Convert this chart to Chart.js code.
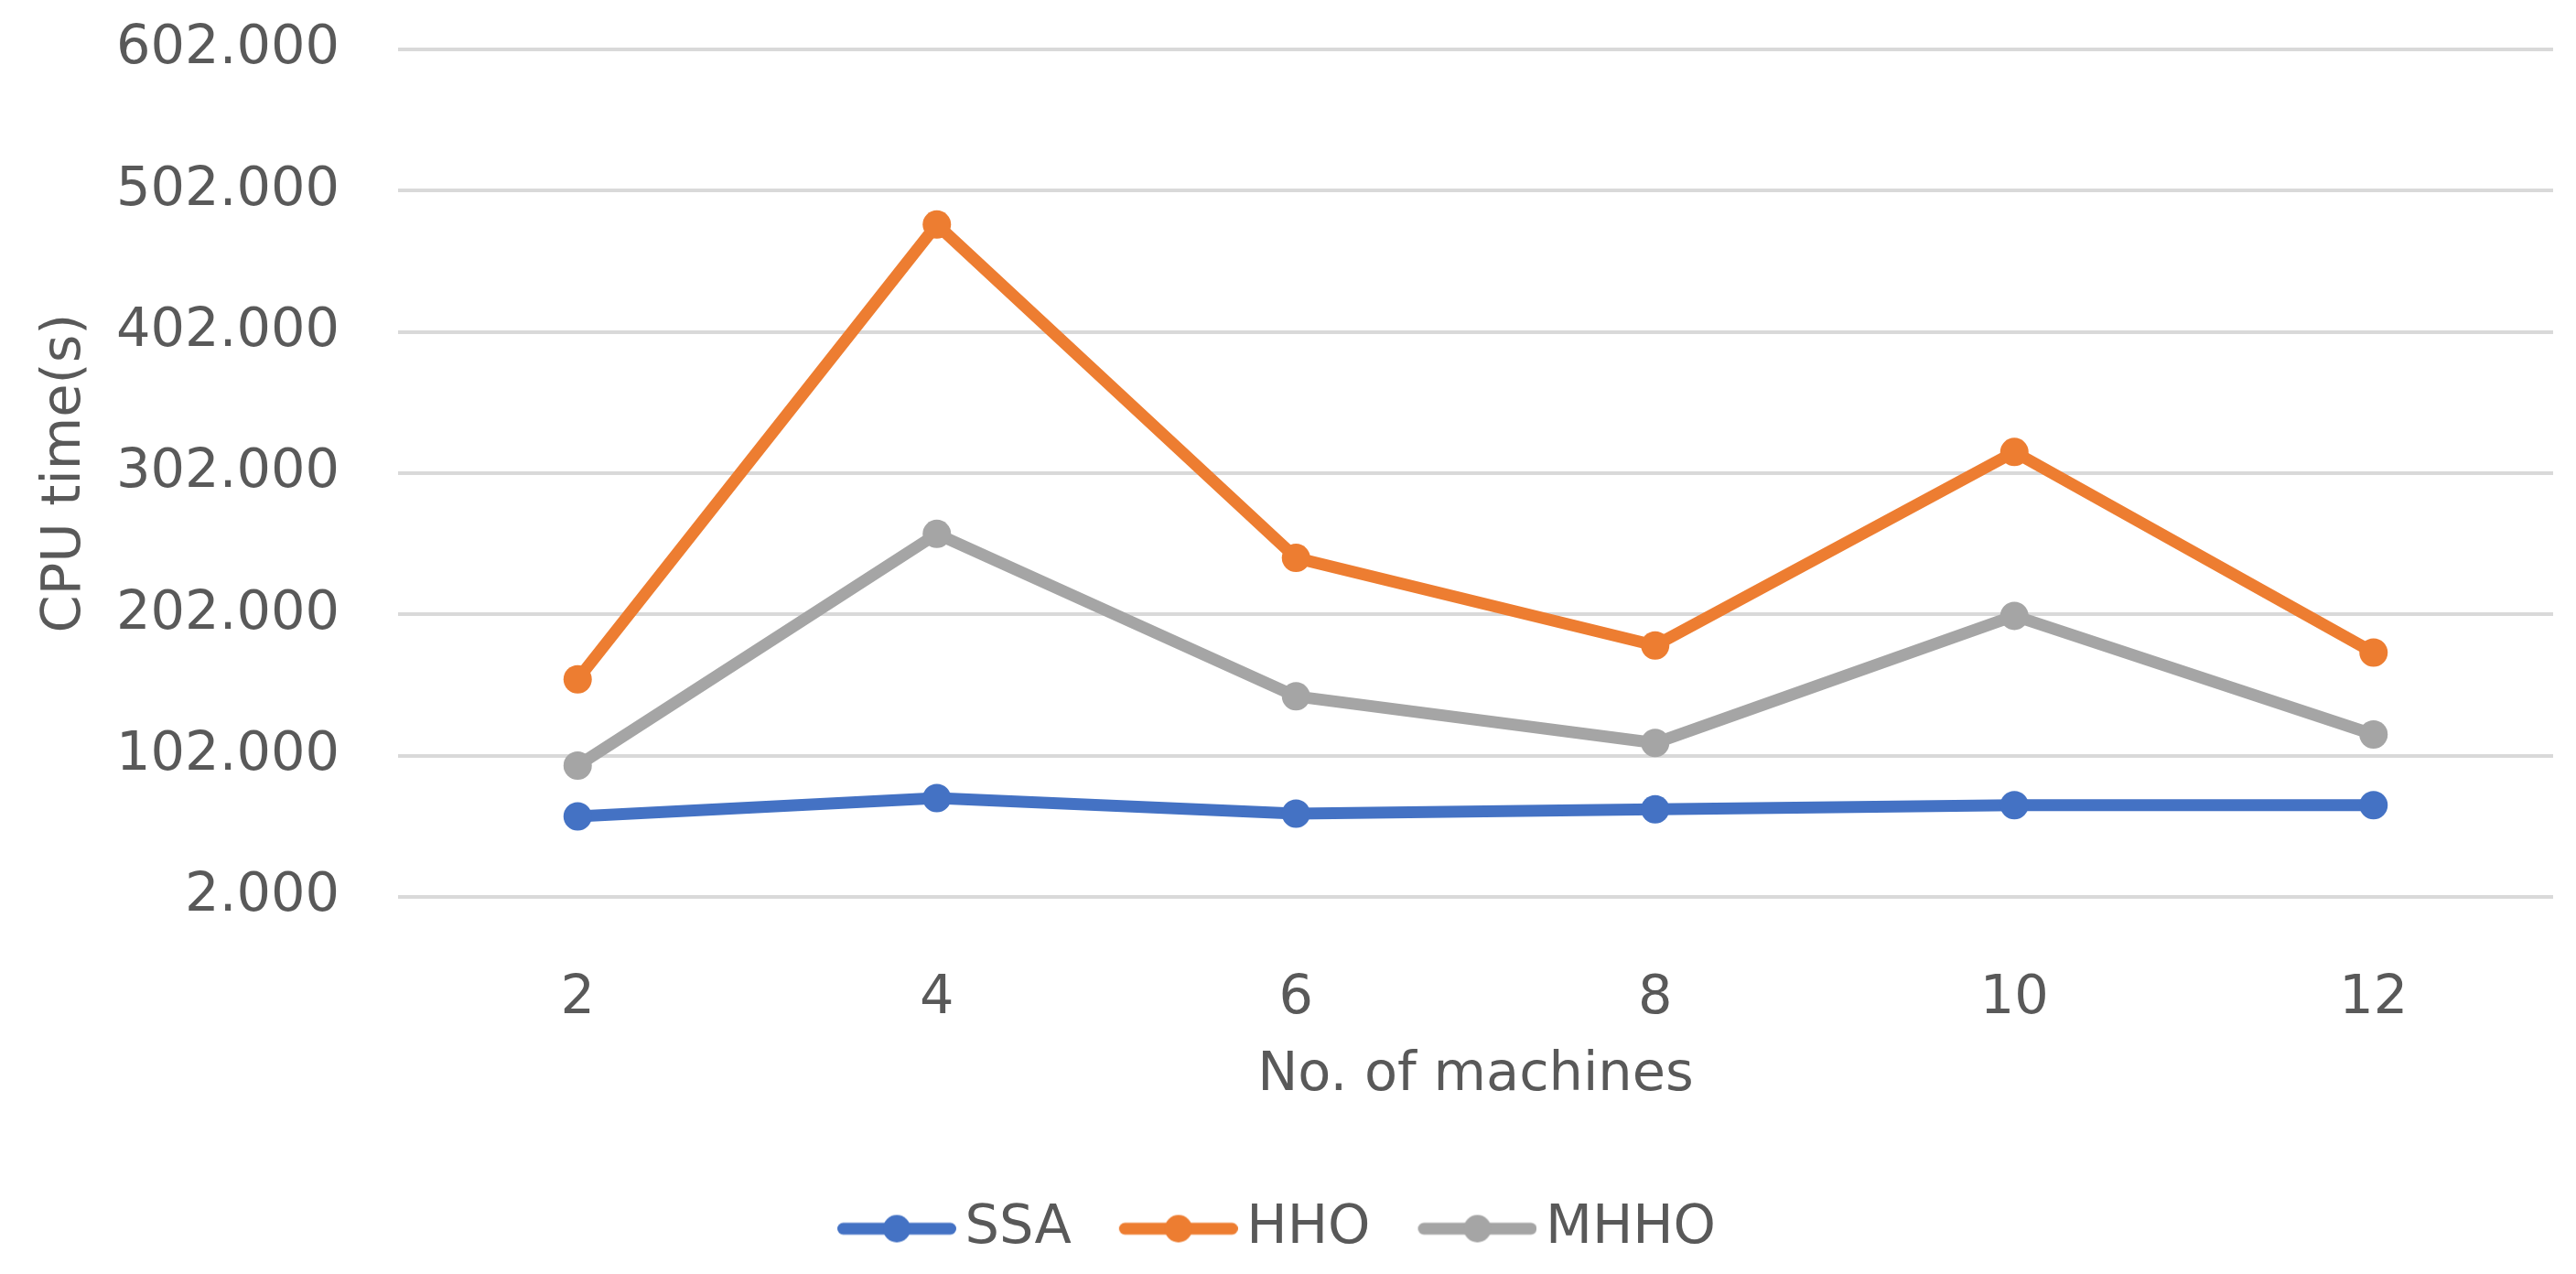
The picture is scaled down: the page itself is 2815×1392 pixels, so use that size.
<!DOCTYPE html>
<html>
<head>
<meta charset="utf-8">
<script src="https://cdn.jsdelivr.net/npm/chart.js@4/dist/chart.umd.min.js"></script>
<style>
  html, body { margin: 0; padding: 0; background: #fff; }
  #cpu-chart { display: block; }
</style>
</head>
<body>
<canvas id="cpu-chart" width="2815" height="1392"></canvas>
<script>
// CPU time vs number of machines
// ------------------------------
const machines = ['2', '4', '6', '8', '10', '12'];
const ssaTimes = [59, 72, 61, 64, 67, 67];
const hhoTimes = [156, 478, 242, 180, 317, 175];
const mhhoTimes = [95, 259, 144, 111, 201, 117];
const yTicks = [2, 102, 202, 302, 402, 502, 602];

const seriesNames = ['SSA', 'HHO', 'MHHO'];
const seriesColors = ['#4472C4', '#ED7D31', '#A5A5A5'];

const textColor = '#595959';
const fontFamily = '"DejaVu Sans", sans-serif';
const fontSize = 59;

// legend marker: a short line with a dot in the middle
function legendMarker(color) {
    const c = document.createElement('canvas');
    c.width = 150;
    c.height = 34;
    const g = c.getContext('2d');
    g.strokeStyle = color;
    g.lineWidth = 13;
    g.lineCap = 'round';
    g.beginPath();
    g.moveTo(26.5, 17);
    g.lineTo(143.5, 17);
    g.stroke();
    g.fillStyle = color;
    g.beginPath();
    g.arc(85, 17, 15, 0, Math.PI * 2);
    g.fill();
    return c;
}
const markers = seriesColors.map(legendMarker);

function makeSet(i, data) {
    return {
        label: seriesNames[i],
        data: data,
        borderColor: seriesColors[i],
        backgroundColor: seriesColors[i],
        borderWidth: 13,
        borderCapStyle: 'round',
        borderJoinStyle: 'round',
        pointRadius: 15.5,
        pointHoverRadius: 15.5,
        pointBorderWidth: 0,
        tension: 0
    };
}

const ctx = document.getElementById('cpu-chart');

new Chart(ctx, {
    type: 'line',
    data: {
        labels: machines,
        datasets: [makeSet(0, ssaTimes), makeSet(1, hhoTimes), makeSet(2, mhhoTimes)]
    },
    options: {
        responsive: false,
        devicePixelRatio: 1,
        animation: false,
        layout: { padding: { top: 54, right: 25, left: 0, bottom: 10 } },
        plugins: {
            tooltip: { enabled: false },
            legend: {
                position: 'bottom',
                labels: {
                    color: textColor,
                    font: { family: fontFamily, size: fontSize },
                    usePointStyle: true,
                    pointStyleWidth: 110,
                    boxHeight: 34,
                    padding: 52,
                    generateLabels: function (chart) {
                        return chart.data.datasets.map(function (ds, i) {
                            return {
                                text: ds.label,
                                fillStyle: ds.borderColor,
                                strokeStyle: ds.borderColor,
                                lineWidth: 0,
                                pointStyle: markers[i],
                                fontColor: textColor,
                                hidden: false,
                                datasetIndex: i
                            };
                        });
                    }
                }
            }
        },
        scales: {
            x: {
                offset: true,
                grid: { display: false, drawTicks: false },
                border: { display: false },
                afterFit: function (scale) {
                    // keep the plot bottom at 980 px
                    const chart = scale.chart;
                    scale.height = chart.height - 10 - chart.legend.height - 980;
                },
                ticks: {
                    color: textColor,
                    font: { family: fontFamily, size: fontSize },
                    padding: 76
                },
                title: {
                    display: true,
                    text: 'No. of machines',
                    color: textColor,
                    font: { family: fontFamily, size: fontSize },
                    padding: { top: 0, bottom: 50 }
                }
            },
            y: {
                min: 2,
                max: 602,
                afterBuildTicks: function (scale) {
                    scale.ticks = yTicks.map(function (v) { return { value: v }; });
                },
                afterFit: function (scale) {
                    scale.width = 435;
                },
                grid: {
                    color: '#D9D9D9',
                    lineWidth: 4,
                    drawTicks: true,
                    tickLength: 64,
                    tickColor: 'rgba(0,0,0,0)'
                },
                border: { display: false },
                ticks: {
                    color: textColor,
                    font: { family: fontFamily, size: fontSize },
                    padding: 0,
                    callback: function (value) { return Number(value).toFixed(3); }
                },
                title: {
                    display: true,
                    text: 'CPU time(s)',
                    color: textColor,
                    font: { family: fontFamily, size: fontSize },
                    padding: { top: 36, bottom: 0 }
                }
            }
        }
    }
});
</script>
</body>
</html>
